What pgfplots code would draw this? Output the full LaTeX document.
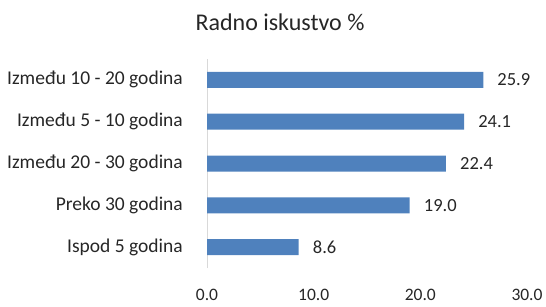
\documentclass[border=0pt]{standalone}
\usepackage{fontspec}
\setmainfont{Carlito}
\usepackage{pgfplots}
\pgfplotsset{compat=1.18}
\definecolor{barblue}{HTML}{4F81BD}
\definecolor{axisgray}{HTML}{D9D9D9}
\definecolor{txt}{HTML}{262626}
\begin{document}
\begin{tikzpicture}[x=1bp,y=1bp]
\useasboundingbox (0,0) rectangle (546,306);
\node[text=txt,font=\fontsize{24bp}{26bp}\selectfont] at (280,284) {Radno iskustvo \%};
\begin{axis}[
  at={(207bp,38bp)}, anchor=south west,
  scale only axis,
  width=320bp, height=209bp,
  xbar, bar width=16bp,
  xmin=0, xmax=30,
  ymin=-0.5, ymax=4.5,
  xtick={0,10,20,30},
  ytick={0,1,2,3,4},
  yticklabels={Ispod 5 godina, Preko 30 godina, Između 20 - 30 godina, Između 5 - 10 godina, Između 10 - 20 godina},
  axis x line*=bottom,
  x axis line style={draw=none},
  axis y line*=left,
  y axis line style={axisgray, line width=0.8pt, -},
  major tick length=0pt,
  tick style={draw=none},
  xticklabels={0.0,10.0,20.0,30.0},
  xticklabel style={anchor=center, yshift=-27bp, text=txt, font=\fontsize{17.5bp}{19bp}\selectfont},
  yticklabel style={anchor=east, inner sep=0pt, xshift=-24bp, text=txt, font=\fontsize{19.5bp}{21bp}\selectfont},
  nodes near coords,
  nodes near coords style={anchor=west, inner sep=0pt, xshift=14bp, text=txt, font=\fontsize{18.5bp}{20bp}\selectfont,
    /pgf/number format/fixed, /pgf/number format/precision=1, /pgf/number format/fixed zerofill, /pgf/number format/assume math mode=true},
  point meta=explicit,
  clip=false,
]
\addplot[fill=barblue, draw=none] coordinates {
  (8.6,0) [8.6]
  (19.0,1) [19.0]
  (22.4,2) [22.4]
  (24.1,3) [24.1]
  (25.9,4) [25.9]
};
\end{axis}
\end{tikzpicture}
\end{document}
